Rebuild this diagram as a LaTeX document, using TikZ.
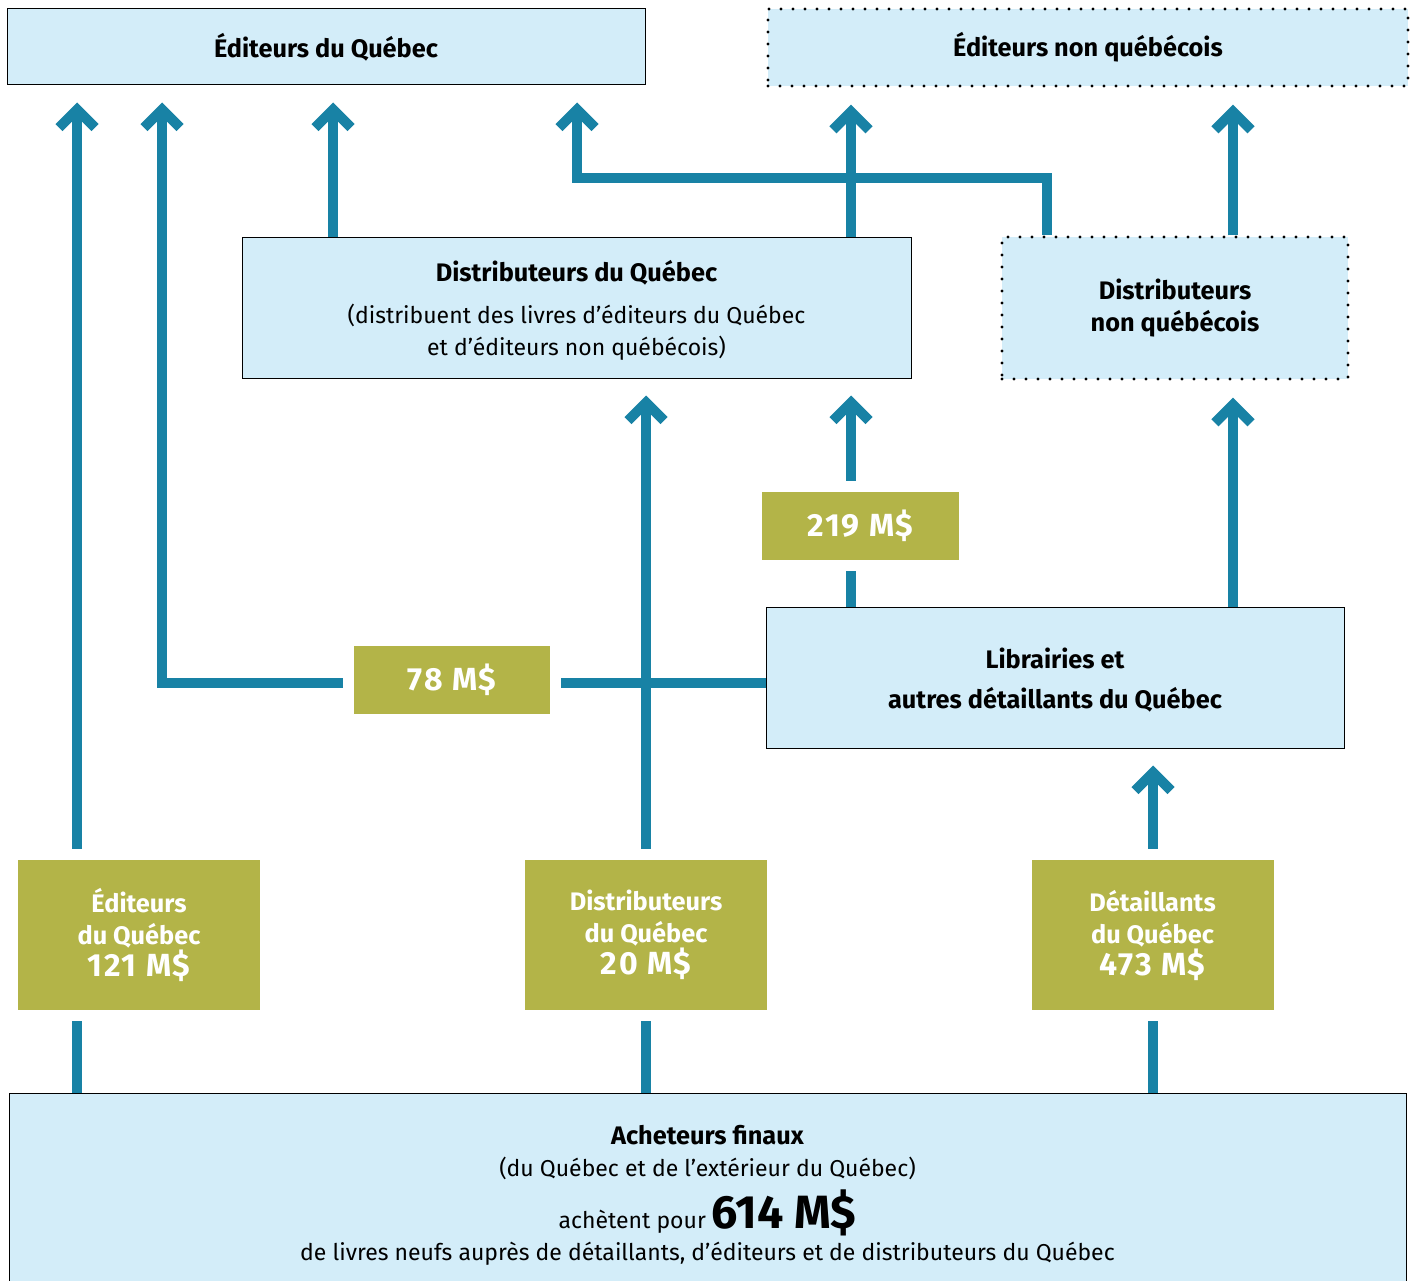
\documentclass[tikz,border=0pt]{standalone}
\usepackage{fontspec}
\setmainfont{Fira Sans}
\usetikzlibrary{arrows.meta,backgrounds}

\definecolor{flowblue}{RGB}{24,130,165}
\definecolor{olivebox}{RGB}{179,180,72}
\definecolor{paleblue}{RGB}{211,237,249}

\newcommand{\txtreg}{\mdseries\fontsize{17.25}{24}\selectfont}
\newcommand{\txtamount}{\bfseries\fontsize{24}{24}\selectfont\addfontfeature{LetterSpace=6}}
\newcommand{\txttotal}{\bfseries\fontsize{35}{35}\selectfont}
\newcommand{\toplift}{\rule{0pt}{20pt}}

\tikzset{every picture/.style={line width=0.75pt}}
\tikzset{
  qbox/.style={draw=black, fill=paleblue, line width=0.75pt, align=center, inner sep=0pt,
    font=\bfseries\fontsize{19}{24}\selectfont},
  dotbox/.style={qbox, line width=2.6pt, dash pattern=on 0pt off 9pt, line cap=round},
  amount/.style={fill=olivebox, text=white, align=center, inner sep=0pt,
    font=\bfseries\fontsize{19}{24}\selectfont, preaction={draw=white, line width=16.5pt}},
  flow/.style={draw=flowblue, line width=7.5pt, -{Straight Barb[length=13.5pt,width=27pt]},
    shorten >=12.75pt},
}

\begin{document}
\begin{tikzpicture}[x=0.75pt,y=0.75pt,yscale=-1,xscale=1]
    \useasboundingbox (0,0) rectangle (1411,1281);

    % boxes
    \node[qbox, minimum width=478.5pt, minimum height=57pt] (A) at (326,47) {Éditeurs du Québec};
    \node[dotbox, minimum width=480pt, minimum height=57.75pt] (B) at (1088,47.5) {Éditeurs non québécois};
    \node[qbox, minimum width=501.75pt, minimum height=105.75pt] (C) at (576.5,307.5)
      {\toplift Distributeurs du Québec\\[7pt]{\txtreg (distribuent des livres d'éditeurs du Québec}\\{\txtreg et d'éditeurs non québécois)}};
    \node[dotbox, minimum width=259.5pt, minimum height=106.5pt] (D) at (1175,308) {Distributeurs\\non québécois};
    \node[qbox, minimum width=433.5pt, minimum height=105.75pt] (E) at (1055,677.5) {\toplift Librairies et\\[6pt]autres détaillants du Québec};
    \node[qbox, minimum width=1047.75pt, minimum height=147.75pt] (F) at (707.5,1191.5)
      {\toplift Acheteurs finaux\\{\txtreg (du Québec et de l'extérieur du Québec)}\\[7pt]{\txtreg achètent pour {\txttotal 614 M\$}}\\{\txtreg de livres neufs auprès de détaillants, d'éditeurs et de distributeurs du Québec}};

    % amounts
    \node[amount, minimum width=147.75pt, minimum height=51pt] (m219) at (860.5,526) {\txtamount 219 M\$};
    \node[amount, minimum width=147pt, minimum height=51pt] (m78) at (452,680) {\txtamount 78 M\$};
    \node[amount, minimum width=181.5pt, minimum height=112.5pt] (m121) at (139,935) {Éditeurs\\du Québec\\{\txtamount 121 M\$}};
    \node[amount, minimum width=181.5pt, minimum height=112.5pt] (m20) at (646,935) {Distributeurs\\du Québec\\{\txtamount 20 M\$}};
    \node[amount, minimum width=181.5pt, minimum height=112.5pt] (m473) at (1152.5,935) {Détaillants\\du Québec\\{\txtamount 473 M\$}};

    % columns and bends
    \coordinate (colA) at (77,0);
    \coordinate (colB) at (162,0);
    \coordinate (colC) at (333,0);
    \coordinate (colD) at (577,0);
    \coordinate (colE) at (646,0);
    \coordinate (colF) at (851,0);
    \coordinate (colH) at (1153,0);
    \coordinate (colI) at (1233,0);
    \coordinate (bendD) at (1047,178);

    \begin{scope}[on background layer]
    \draw[flow] (F.north -| colA) -- (A.south -| colA);
    \draw[flow] ([yshift=3.75pt]E.west) -| (A.south -| colB);
    \draw[flow] (C.north -| colC) -- (A.south -| colC);
    \draw[flow] (D.north -| bendD) -- (bendD) -| (A.south -| colD);
    \draw[flow] (C.north -| colF) -- (B.south -| colF);
    \draw[flow] (D.north -| colI) -- (B.south -| colI);
    \draw[flow] (F.north -| colE) -- (C.south -| colE);
    \draw[flow] (E.north -| colF) -- (C.south -| colF);
    \draw[flow] (E.north -| colI) -- (D.south -| colI);
    \draw[flow] (F.north -| colH) -- (E.south -| colH);
    \end{scope}
\end{tikzpicture}
\end{document}
